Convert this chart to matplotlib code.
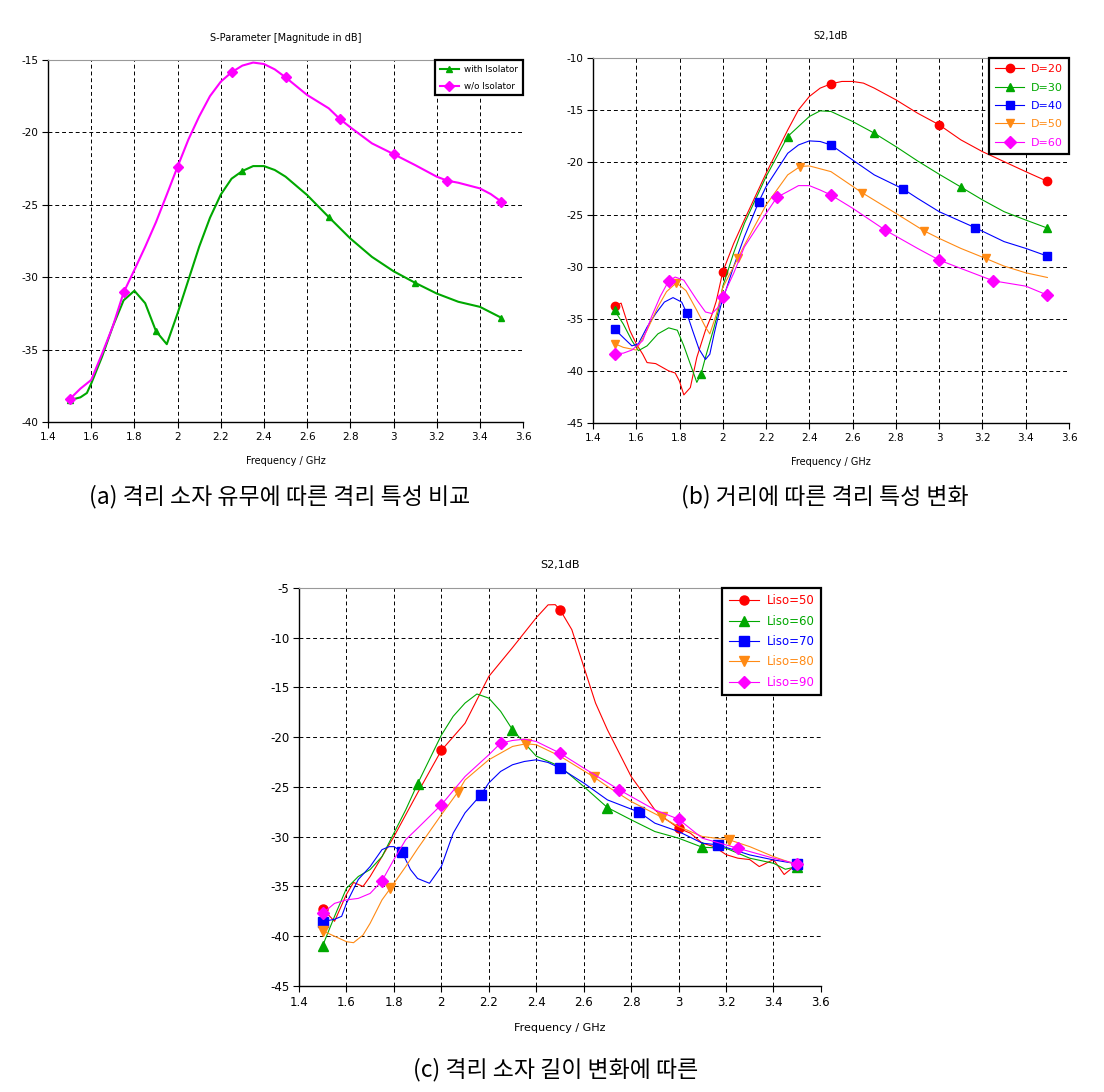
import numpy as np
import matplotlib.pyplot as plt
from matplotlib.lines import Line2D

plt.rcParams["axes.unicode_minus"] = False

# ===========================
# DATOS
# ===========================
# (a) with / without isolator
a_with_f = [1.5, 1.55, 1.58, 1.6, 1.65, 1.7, 1.75, 1.8, 1.85, 1.9, 1.95, 2.0, 2.05, 2.1, 2.15,
            2.2, 2.25, 2.3, 2.35, 2.4, 2.45, 2.5, 2.6, 2.7, 2.8, 2.9, 3.0, 3.1, 3.2, 3.3, 3.4, 3.5]
a_with_v = [-38.5, -38.3, -38.0, -37.35, -35.5, -33.4, -31.6, -30.94, -31.8, -33.73, -34.63, -32.5,
            -30.2, -27.9, -25.9, -24.3, -23.2, -22.67, -22.33, -22.33, -22.6, -23.06, -24.33, -25.85,
            -27.33, -28.6, -29.59, -30.39, -31.13, -31.7, -32.05, -32.81]
a_with_mk = [1.5, 1.9, 2.3, 2.7, 3.1, 3.5]

a_wo_f = [1.5, 1.55, 1.6, 1.65, 1.7, 1.75, 1.8, 1.85, 1.9, 1.95, 2.0, 2.05, 2.1, 2.15, 2.2, 2.25,
          2.3, 2.35, 2.4, 2.45, 2.5, 2.6, 2.7, 2.75, 2.8, 2.9, 3.0, 3.1, 3.2, 3.25, 3.3, 3.4, 3.45, 3.5]
a_wo_v = [-38.43, -37.7, -37.1, -35.3, -33.4, -31.06, -29.5, -27.9, -26.2, -24.3, -22.37, -20.5,
          -18.9, -17.5, -16.5, -15.85, -15.39, -15.18, -15.28, -15.65, -16.2, -17.42, -18.34, -19.06,
          -19.65, -20.76, -21.5, -22.26, -23.06, -23.34, -23.48, -23.87, -24.26, -24.79]
a_wo_mk = [1.5, 1.75, 2.0, 2.25, 2.5, 2.75, 3.0, 3.25, 3.5]

# (b) distance D
b_d20_f = [1.5, 1.53, 1.57, 1.6, 1.63, 1.65, 1.69, 1.75, 1.78, 1.8, 1.82, 1.85, 1.88, 1.92, 1.95,
           1.97, 2.0, 2.05, 2.1, 2.2, 2.3, 2.35, 2.4, 2.45, 2.5, 2.55, 2.6, 2.65, 2.7, 2.8, 2.9,
           3.0, 3.1, 3.2, 3.3, 3.4, 3.5]
b_d20_v = [-33.8, -33.5, -36.1, -37.4, -38.4, -39.2, -39.3, -40.0, -40.2, -41.0, -42.3, -41.6,
           -38.7, -36.1, -34.6, -33.3, -30.49, -27.8, -25.5, -21.05, -16.9, -14.96, -13.68, -12.88,
           -12.47, -12.24, -12.24, -12.4, -12.88, -14.0, -15.28, -16.4, -17.84, -18.97, -19.93,
           -20.89, -21.82]
b_d20_mk = [1.5, 2.0, 2.5, 3.0, 3.5]

b_d30_f = [1.5, 1.54, 1.58, 1.61, 1.65, 1.7, 1.75, 1.79, 1.82, 1.85, 1.88, 1.9, 1.92, 1.96, 1.98,
           2.0, 2.05, 2.1, 2.2, 2.3, 2.4, 2.45, 2.5, 2.6, 2.7, 2.8, 2.9, 3.0, 3.1, 3.2, 3.3, 3.4, 3.5]
b_d30_v = [-34.2, -35.5, -37.1, -38.06, -37.6, -36.45, -35.87, -36.1, -37.6, -39.35, -41.1, -40.26,
           -38.7, -35.8, -34.2, -31.9, -28.7, -25.85, -21.37, -17.52, -15.6, -15.06, -15.12, -16.08,
           -17.2, -18.49, -19.86, -21.14, -22.36, -23.6, -24.73, -25.53, -26.3]
b_d30_mk = [1.5, 1.9, 2.3, 2.7, 3.1, 3.5]

b_d40_f = [1.5, 1.54, 1.58, 1.61, 1.65, 1.69, 1.73, 1.77, 1.81, 1.8333, 1.86, 1.89, 1.92, 1.94,
           1.96, 1.99, 2.05, 2.1, 2.1667, 2.2, 2.3, 2.35, 2.4, 2.45, 2.5, 2.6, 2.7, 2.8333, 2.9,
           3.0, 3.1667, 3.3, 3.4, 3.5]
b_d40_v = [-36.0, -36.8, -37.6, -37.4, -35.8, -34.5, -33.4, -32.97, -33.4, -34.45, -36.1, -37.9,
           -38.9, -38.4, -36.45, -33.8, -30.0, -27.13, -23.77, -22.33, -19.13, -18.33, -17.94,
           -18.0, -18.33, -19.77, -21.2, -22.55, -23.45, -24.73, -26.27, -27.6, -28.25, -28.99]
b_d40_mk = [1.5, 1.8333, 2.1667, 2.5, 2.8333, 3.1667, 3.5]

b_d50_f = [1.5, 1.54, 1.6, 1.65, 1.7, 1.74, 1.7857, 1.83, 1.88, 1.92, 1.94, 1.97, 2.0, 2.0714,
           2.1, 2.2, 2.3, 2.3571, 2.4, 2.5, 2.6429, 2.8, 2.9286, 3.0, 3.1, 3.2143, 3.3, 3.4, 3.5]
b_d50_v = [-37.38, -37.74, -38.0, -36.1, -33.87, -32.4, -31.55, -32.3, -34.2, -35.8, -36.45,
           -34.6, -32.0, -29.15, -27.93, -24.09, -21.2, -20.4, -20.34, -20.89, -22.9, -24.89,
           -26.55, -27.29, -28.25, -29.21, -29.95, -30.59, -31.04]
b_d50_mk = [1.5, 1.7857, 2.0714, 2.3571, 2.6429, 2.9286, 3.2143]

b_d60_f = [1.5, 1.54, 1.58, 1.63, 1.67, 1.71, 1.75, 1.78, 1.82, 1.88, 1.92, 1.95, 1.98, 2.0, 2.05,
           2.1, 2.2, 2.25, 2.3, 2.35, 2.4, 2.45, 2.5, 2.6, 2.75, 2.9, 3.0, 3.1, 3.25, 3.4, 3.5]
b_d60_v = [-38.34, -38.3, -38.0, -37.1, -34.84, -32.9, -31.36, -31.0, -31.3, -33.2, -34.35, -34.5,
           -33.87, -32.9, -30.65, -28.1, -24.9, -23.35, -22.8, -22.23, -22.23, -22.65, -23.13,
           -24.4, -26.49, -28.25, -29.37, -30.17, -31.36, -31.87, -32.73]
b_d60_mk = [1.5, 1.75, 2.0, 2.25, 2.5, 2.75, 3.0, 3.25, 3.5]

# (c) isolator length Liso
c_l50_f = [1.5, 1.55, 1.6, 1.63, 1.67, 1.7, 1.75, 1.8, 1.9, 2.0, 2.1, 2.2, 2.3, 2.4, 2.45, 2.48,
           2.5, 2.55, 2.6, 2.65, 2.7, 2.75, 2.8, 2.85, 2.9, 2.95, 3.0, 3.05, 3.1, 3.15, 3.2, 3.25,
           3.3, 3.34, 3.4, 3.445, 3.5]
c_l50_v = [-37.26, -38.5, -35.8, -34.6, -35.0, -34.0, -32.0, -30.0, -25.6, -21.33, -18.6, -13.9,
           -11.0, -8.0, -6.7, -6.68, -7.18, -9.19, -12.88, -16.57, -19.25, -21.6, -23.95, -25.6,
           -27.3, -28.3, -29.14, -29.65, -30.65, -31.0, -31.8, -32.16, -32.3, -33.0, -32.3, -33.8,
           -32.73]
c_l50_mk = [1.5, 2.0, 2.5, 3.0, 3.5]

c_l60_f = [1.5, 1.55, 1.6, 1.65, 1.7, 1.75, 1.8, 1.85, 1.9, 2.0, 2.05, 2.1, 2.15, 2.2, 2.25, 2.3,
           2.4, 2.5, 2.6, 2.7, 2.8, 2.9, 3.0, 3.1, 3.2, 3.3, 3.4, 3.45, 3.5]
c_l60_v = [-40.95, -38.0, -35.2, -34.0, -33.3, -32.0, -29.65, -27.3, -24.68, -19.8, -17.9, -16.57,
           -15.66, -16.07, -17.4, -19.25, -21.9, -22.94, -24.95, -27.07, -28.3, -29.48, -30.15,
           -31.06, -31.16, -32.16, -32.67, -33.27, -33.0]
c_l60_mk = [1.5, 1.9, 2.3, 2.7, 3.1, 3.5]

c_l70_f = [1.5, 1.55, 1.58, 1.6, 1.65, 1.7, 1.75, 1.78, 1.8, 1.8333, 1.87, 1.9, 1.95, 2.0, 2.05,
           2.1, 2.1667, 2.2, 2.25, 2.3, 2.35, 2.4, 2.45, 2.5, 2.6, 2.7, 2.8333, 2.9, 3.0, 3.1,
           3.1667, 3.3, 3.4, 3.5]
c_l70_v = [-38.53, -38.3, -38.0, -36.7, -34.3, -33.0, -31.3, -31.0, -31.0, -31.49, -33.3, -34.2,
           -34.68, -33.0, -29.65, -27.6, -25.79, -24.6, -23.44, -22.77, -22.44, -22.27, -22.54,
           -23.1, -24.6, -26.3, -27.53, -28.64, -29.48, -30.65, -30.82, -31.83, -32.33, -32.73]
c_l70_mk = [1.5, 1.8333, 2.1667, 2.5, 2.8333, 3.1667, 3.5]

c_l80_f = [1.5, 1.55, 1.6, 1.63, 1.67, 1.7, 1.75, 1.7857, 1.85, 1.9, 2.0, 2.0714, 2.1, 2.2, 2.3,
           2.3571, 2.4, 2.5, 2.6429, 2.7, 2.8, 2.9286, 3.0, 3.1, 3.2143, 3.3, 3.4, 3.5]
c_l80_v = [-39.47, -40.0, -40.55, -40.65, -39.88, -38.7, -36.35, -35.18, -33.0, -31.2, -27.8,
           -25.46, -24.3, -22.27, -20.93, -20.66, -20.76, -21.9, -24.0, -24.95, -26.46, -28.04,
           -28.98, -29.98, -30.32, -31.0, -32.0, -32.83]
c_l80_mk = [1.5, 1.7857, 2.0714, 2.3571, 2.6429, 2.9286, 3.2143]

c_l90_f = [1.5, 1.55, 1.6, 1.65, 1.7, 1.75, 1.8, 1.85, 1.9, 2.0, 2.1, 2.2, 2.25, 2.3, 2.35, 2.4,
           2.5, 2.6, 2.75, 2.9, 3.0, 3.1, 3.25, 3.4, 3.5]
c_l90_v = [-37.7, -36.7, -36.35, -36.2, -35.7, -34.44, -32.3, -30.3, -29.15, -26.8, -23.95,
           -21.77, -20.6, -20.33, -20.2, -20.43, -21.6, -23.1, -25.29, -27.3, -28.24, -30.15,
           -31.16, -32.16, -32.73]
c_l90_mk = [1.5, 1.75, 2.0, 2.25, 2.5, 2.75, 3.0, 3.25, 3.5]

x_ticks = [1.4, 1.6, 1.8, 2.0, 2.2, 2.4, 2.6, 2.8, 3.0, 3.2, 3.4, 3.6]

RED, GREEN, BLUE, ORANGE, MAGENTA = "#ff0000", "#00a800", "#0000ff", "#ff8a14", "#ff00ff"
KR = ["Noto Sans CJK KR", "DejaVu Sans"]


def marker_pts(f, v, mk):
    f = np.asarray(f)
    v = np.asarray(v)
    idx = [int(np.argmin(np.abs(f - m))) for m in mk]
    return f[idx], v[idx]


def setup_axes(ax, ylim, title, fs):
    ax.set_xlim(1.4, 3.6)
    ax.set_ylim(*ylim)
    ax.set_xticks(x_ticks)
    ax.set_xticklabels([f"{t:g}" for t in x_ticks])
    ax.set_yticks(np.arange(ylim[0], ylim[1] + 1, 5))
    ax.tick_params(direction="out", length=4, width=0.8, labelsize=fs, pad=3)
    ax.grid(True, color="black", linestyle=(0, (4, 3)), linewidth=0.7)
    ax.set_axisbelow(True)
    for s in ("left", "bottom"):
        ax.spines[s].set_linewidth(1.0)
    ax.spines["top"].set_color("#999999")
    ax.spines["top"].set_linewidth(0.8)
    ax.spines["right"].set_visible(False)
    ax.set_title(title, fontsize=fs - 0.5, pad=14)
    ax.set_xlabel("Frequency / GHz", fontsize=fs - 0.5, labelpad=10)


def draw(ax, series, lw, ms, legend_fs, colored_text, spacing, hlen):
    handles = []
    for f, v, mk, color, marker, label in series:
        ax.plot(f, v, color=color, lw=lw)
        mf, mv = marker_pts(f, v, mk)
        ax.plot(mf, mv, ls="none", marker=marker, color=color, markersize=ms, clip_on=False)
        handles.append(Line2D([], [], color=color, lw=lw, marker=marker, markersize=ms, label=label))
    leg = ax.legend(handles=handles, loc="upper right", bbox_to_anchor=(1.0, 1.0),
                    borderaxespad=0.0, fontsize=legend_fs, fancybox=False, framealpha=1.0,
                    edgecolor="black", handlelength=hlen, handletextpad=0.6, labelspacing=spacing,
                    borderpad=0.55)
    leg.get_frame().set_linewidth(1.6)
    if colored_text:
        for txt, s in zip(leg.get_texts(), series):
            txt.set_color(s[3])


fig = plt.figure(figsize=(11.04, 10.92), dpi=100)

# (a)
ax_a = fig.add_axes([0.0435, 0.6136, 0.4303, 0.3315])
setup_axes(ax_a, (-40, -15), "S-Parameter [Magnitude in dB]", 7.5)
draw(ax_a, [
    (a_with_f, a_with_v, a_with_mk, GREEN, "^", "with Isolator"),
    (a_wo_f, a_wo_v, a_wo_mk, MAGENTA, "D", "w/o Isolator"),
], lw=1.5, ms=5, legend_fs=6.3, colored_text=False, spacing=0.9, hlen=2.2)

# (b)
ax_b = fig.add_axes([0.5371, 0.6126, 0.4312, 0.3342])
setup_axes(ax_b, (-45, -10), "S2,1dB", 7.5)
draw(ax_b, [
    (b_d20_f, b_d20_v, b_d20_mk, RED, "o", "D=20"),
    (b_d30_f, b_d30_v, b_d30_mk, GREEN, "^", "D=30"),
    (b_d40_f, b_d40_v, b_d40_mk, BLUE, "s", "D=40"),
    (b_d50_f, b_d50_v, b_d50_mk, ORANGE, "v", "D=50"),
    (b_d60_f, b_d60_v, b_d60_mk, MAGENTA, "D", "D=60"),
], lw=0.8, ms=6, legend_fs=8, colored_text=True, spacing=0.75, hlen=2.6)

# (c)
ax_c = fig.add_axes([0.2708, 0.0971, 0.4728, 0.3645])
setup_axes(ax_c, (-45, -5), "S2,1dB", 8.5)
draw(ax_c, [
    (c_l50_f, c_l50_v, c_l50_mk, RED, "o", "Liso=50"),
    (c_l60_f, c_l60_v, c_l60_mk, GREEN, "^", "Liso=60"),
    (c_l70_f, c_l70_v, c_l70_mk, BLUE, "s", "Liso=70"),
    (c_l80_f, c_l80_v, c_l80_mk, ORANGE, "v", "Liso=80"),
    (c_l90_f, c_l90_v, c_l90_mk, MAGENTA, "D", "Liso=90"),
], lw=0.8, ms=6.5, legend_fs=8.5, colored_text=True, spacing=0.62, hlen=2.6)

# captions
fig.text(280 / 1104, 1 - 497 / 1092, "(a) 격리 소자 유무에 따른 격리 특성 비교",
         ha="center", va="center", fontsize=16.5, family=KR)
fig.text(825 / 1104, 1 - 497 / 1092, "(b) 거리에 따른 격리 특성 변화",
         ha="center", va="center", fontsize=16.5, family=KR)
fig.text(556 / 1104, 1 - 1070 / 1092, "(c) 격리 소자 길이 변화에 따른",
         ha="center", va="center", fontsize=16.5, family=KR)

fig.savefig("out.png", dpi=100)
